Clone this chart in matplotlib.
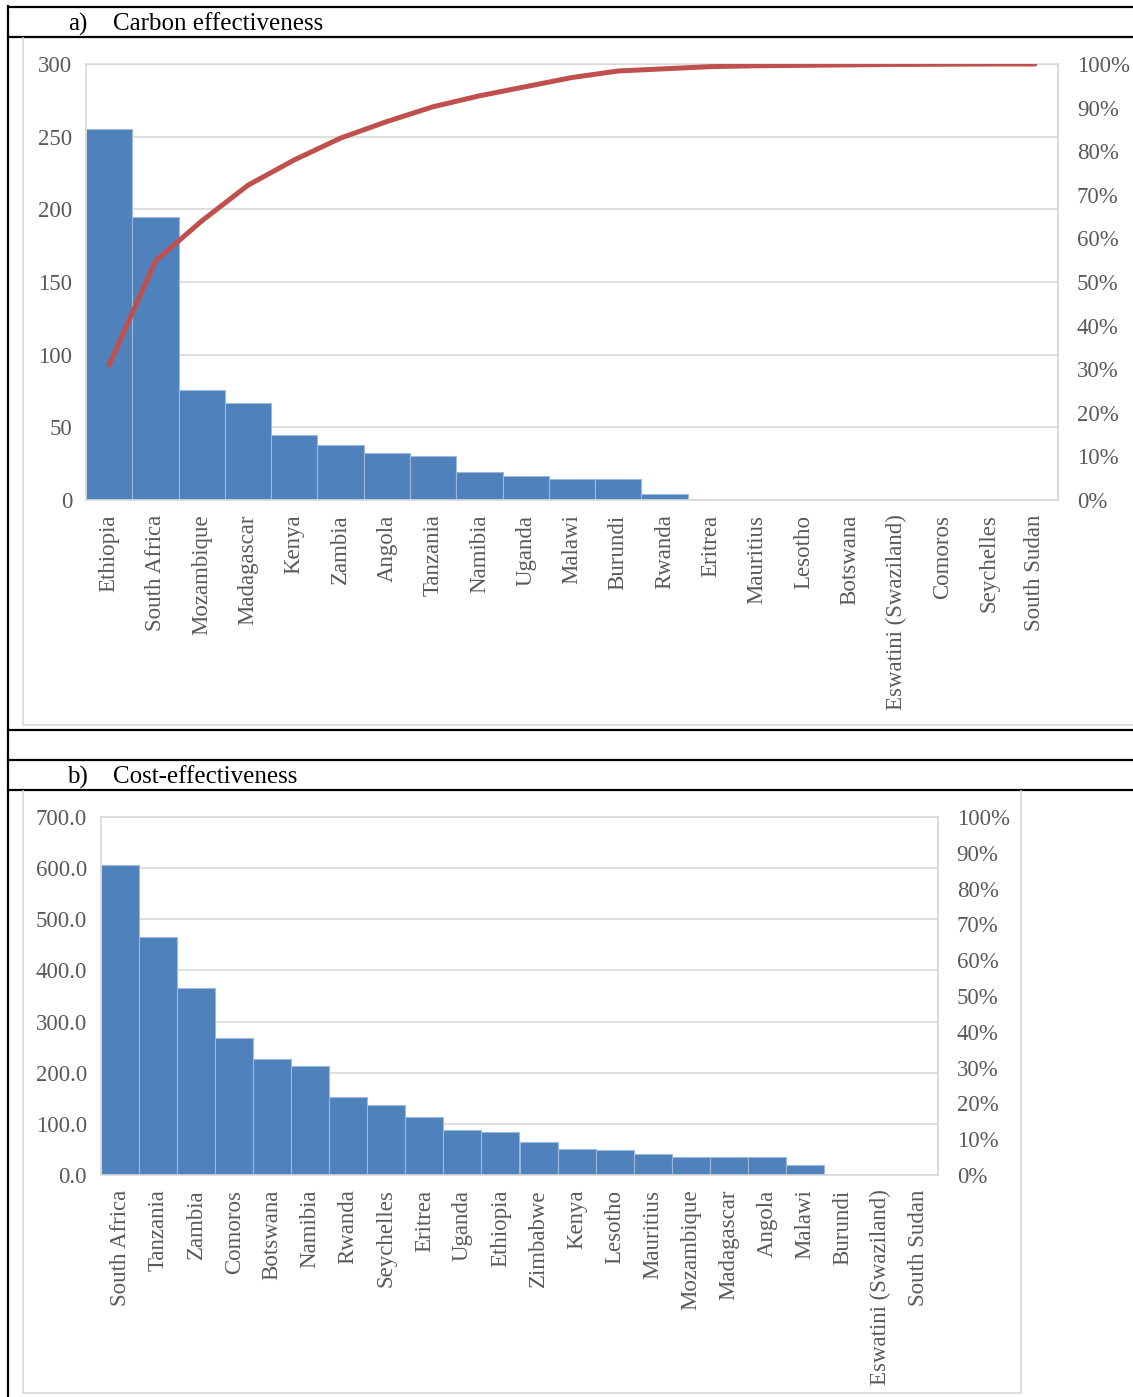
import matplotlib
matplotlib.use("Agg")
import matplotlib.pyplot as plt
from matplotlib.lines import Line2D
from matplotlib.ticker import FuncFormatter
import numpy as np

plt.rcParams['font.family'] = ['Liberation Serif', 'DejaVu Serif']

# a) Carbon effectiveness
carbon_countries = ['Ethiopia', 'South Africa', 'Mozambique', 'Madagascar', 'Kenya',
                    'Zambia', 'Angola', 'Tanzania', 'Namibia', 'Uganda', 'Malawi',
                    'Burundi', 'Rwanda', 'Eritrea', 'Mauritius', 'Lesotho', 'Botswana',
                    'Eswatini (Swaziland)', 'Comoros', 'Seychelles', 'South Sudan']
carbon_values = [255, 195, 76, 67, 45, 38, 32, 30, 19.5, 16.3, 14.2, 14.2, 3.9,
                 0, 0, 0, 0, 0, 0, 0, 0]
carbon_cum_pct = [31.0, 54.8, 64.0, 72.2, 78.0, 83.0, 86.8, 90.2, 92.7, 94.8, 96.9,
                  98.4, 98.9, 99.4, 99.6, 99.7, 99.8, 99.9, 99.95, 100, 100]
carbon_yticks = [0, 50, 100, 150, 200, 250, 300]

# b) Cost-effectiveness
cost_countries = ['South Africa', 'Tanzania', 'Zambia', 'Comoros', 'Botswana', 'Namibia',
                  'Rwanda', 'Seychelles', 'Eritrea', 'Uganda', 'Ethiopia', 'Zimbabwe',
                  'Kenya', 'Lesotho', 'Mauritius', 'Mozambique', 'Madagascar', 'Angola',
                  'Malawi', 'Burundi', 'Eswatini (Swaziland)', 'South Sudan']
cost_values = [606, 466, 365, 268, 227, 214, 152, 137, 114, 88.6, 83.3, 63.7,
               51.4, 48.9, 41, 35.2, 35, 34.6, 19.5, 0, 0, 0]
cost_yticks = [0, 100, 200, 300, 400, 500, 600, 700]

pct_ticks = [0, 10, 20, 30, 40, 50, 60, 70, 80, 90, 100]

W, H = 1133, 1397
BAR = '#4F81BD'
LINE = '#C0504D'
GRID = '#D9D9D9'
TXT = '#595959'

fig = plt.figure(figsize=(W / 100, H / 100), dpi=100)


def box(x0, y0, x1, y1):
    # pixel coords (top-left origin) -> figure fractions
    return [x0 / W, 1 - y1 / H, (x1 - x0) / W, (y1 - y0) / H]


def hline(y, x0, x1, color='black', lw=1.6):
    fig.add_artist(Line2D([x0 / W, x1 / W], [1 - y / H, 1 - y / H], color=color, lw=lw))


def vline(x, y0, y1, color='black', lw=1.6):
    fig.add_artist(Line2D([x / W, x / W], [1 - y0 / H, 1 - y1 / H], color=color, lw=lw))


def style(ax, ax2, yticks, fmt):
    for s in ax.spines.values():
        s.set_color(GRID)
        s.set_linewidth(1.2)
    ax2.spines[:].set_visible(False)
    ax2.spines['right'].set_visible(True)
    ax2.spines['right'].set_color(GRID)
    ax2.spines['right'].set_linewidth(1.2)
    ax.set_yticks(yticks)
    ax.yaxis.set_major_formatter(FuncFormatter(fmt))
    ax.grid(axis='y', color=GRID, lw=1.2)
    ax.set_axisbelow(True)
    ax.tick_params(axis='y', length=0, pad=10, labelsize=16.5, labelcolor=TXT)
    ax.tick_params(axis='x', length=0, pad=10.5, labelsize=16.5, labelcolor=TXT, rotation=90)
    ax2.set_ylim(0, 100)
    ax2.set_yticks(pct_ticks)
    ax2.set_yticklabels([f'{p}%' for p in pct_ticks])
    ax2.tick_params(axis='y', length=0, pad=13.5, labelsize=16.5, labelcolor=TXT)
    for lab in ax.get_xticklabels():
        lab.set_verticalalignment('top')


# frame lines (table borders)
hline(7, 8, W)
vline(8, 6, H)
hline(37, 8, W)
hline(730, 8, W)
hline(760, 8, W)
hline(790, 8, W)
vline(23, 38, 725, color=GRID, lw=1.2)
hline(725, 23, W, color=GRID, lw=1.2)
vline(23, 791, 1393, color=GRID, lw=1.2)
vline(1021, 791, 1393, color=GRID, lw=1.2)
hline(1393, 23, 1021, color=GRID, lw=1.2)

fig.text(88 / W, 1 - 24 / H, 'a)', ha='right', va='center', fontsize=18)
fig.text(113 / W, 1 - 24 / H, 'Carbon effectiveness', ha='left', va='center', fontsize=18)
fig.text(88 / W, 1 - 777 / H, 'b)', ha='right', va='center', fontsize=18)
fig.text(113 / W, 1 - 777 / H, 'Cost-effectiveness', ha='left', va='center', fontsize=18)

# panel a
ax1 = fig.add_axes(box(86, 64, 1058, 500))
xa = np.arange(len(carbon_countries))
ax1.bar(xa, carbon_values, width=1.0, color=BAR, edgecolor='#9DB9D8', linewidth=0.8)
ax1.set_xlim(-0.5, len(carbon_countries) - 0.5)
ax1.set_ylim(0, 300)
ax1.set_xticks(xa)
ax1.set_xticklabels(carbon_countries)
ax1b = ax1.twinx()
ax1b.plot(xa, carbon_cum_pct, color=LINE, lw=3.6, solid_capstyle='round', solid_joinstyle='round')
style(ax1, ax1b, carbon_yticks, lambda v, p: f'{v:.0f}')

# panel b
ax2 = fig.add_axes(box(101, 817, 938, 1175))
xb = np.arange(len(cost_countries))
ax2.bar(xb, cost_values, width=1.0, color=BAR, edgecolor='#9DB9D8', linewidth=0.8)
ax2.set_xlim(-0.5, len(cost_countries) - 0.5)
ax2.set_ylim(0, 700)
ax2.set_xticks(xb)
ax2.set_xticklabels(cost_countries)
ax2b = ax2.twinx()
style(ax2, ax2b, cost_yticks, lambda v, p: f'{v:.1f}')

fig.savefig('out.png', dpi=100)
